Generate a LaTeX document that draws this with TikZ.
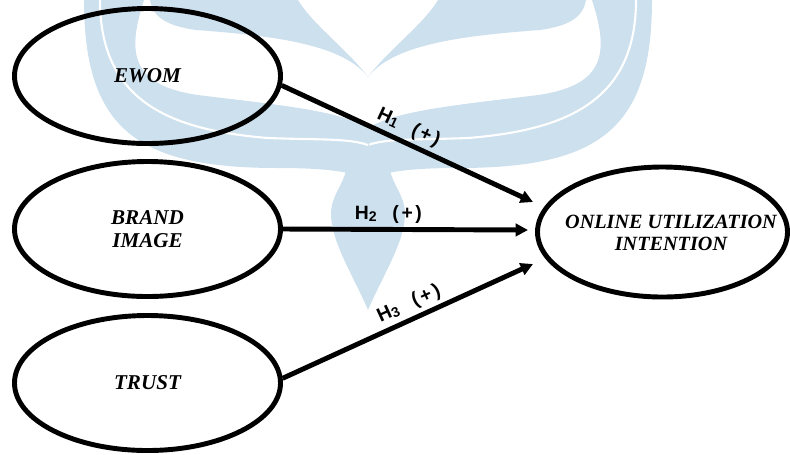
\documentclass[tikz,border=0pt]{standalone}
\usepackage{fontspec}
\setmainfont{Liberation Serif}
\newfontfamily\labelfont{Liberation Sans}
\usepackage{xcolor}
\usepackage{tikz}
\usetikzlibrary{shapes.geometric,arrows.meta}
\definecolor{wmblue}{RGB}{205,224,238}
\newcommand{\hlab}[1]{H\raisebox{-1pt}{\fontsize{8}{9}\selectfont #1}\hspace{9pt}(\kern1.5pt+\kern1.5pt)}

\begin{document}
\begin{tikzpicture}[
  construct/.style={draw, ellipse, line width=2.8pt, minimum width=5.32cm,
    minimum height=2.7cm, inner sep=0pt, align=center,
    font=\fontsize{12}{13}\selectfont\bfseries\itshape},
  hyp/.style={line width=2.8pt, -{Triangle[length=7pt,width=7pt]}},
  hlabel/.style={sloped, above, inner sep=2pt,
    font=\labelfont\fontsize{11}{12}\selectfont\bfseries}
]
\useasboundingbox (0,0) rectangle (15.8,-9.08);

% logo behind the model
\begin{scope}[x=0.2mm, y=-0.2mm, xshift=7.36cm]
  \foreach \s in {1,-1} {
    \begin{scope}[xscale=\s]
      \fill[wmblue] (-1,180) -- (0,180) .. controls (15,172) and (40,168) .. (90,168)
        .. controls (230,168) and (284,130) .. (284,0) -- (224,0)
        .. controls (240,50) and (240,85) .. (170,95)
        .. controls (90,105) and (30,110) .. (0,128) -- (-1,128) -- cycle;
      \draw[white, line width=1.2pt] (268,0) .. controls (268,100) and (200,130) .. (100,138)
        .. controls (50,140) and (20,138) .. (0,145);
      \fill[wmblue] (0,77) .. controls (20,50) and (55,25) .. (70,0) -- (218,0)
        .. controls (215,18) and (200,26) .. (172,30)
        .. controls (90,36) and (25,45) .. (0,77) -- cycle;
    \end{scope}
  }
  \fill[wmblue] (0,310) .. controls (-15,275) and (-38,240) .. (-37,212)
    .. controls (-36,195) and (-25,185) .. (-22,170) -- (22,170)
    .. controls (25,185) and (36,195) .. (37,212)
    .. controls (38,240) and (15,275) .. (0,310) -- cycle;
\end{scope}

\node[construct] (ewom) at (2.95,-1.52) {EWOM};
\node[construct] (brand) at (2.95,-4.58) {BRAND\\IMAGE};
\node[construct] (trust) at (2.95,-7.66) {TRUST};
\node[construct, minimum width=5.0cm, minimum height=2.6cm] (online) at (13.25,-4.64) {};
\node[align=center, font=\fontsize{11.5}{12.5}\selectfont\bfseries\itshape] (online text)
  at (13.42,-4.66) {ONLINE UTILIZATION\\INTENTION};

\coordinate (t1) at (10.66,-4.04);
\coordinate (t2) at (10.56,-4.60);
\coordinate (t3) at (10.66,-5.28);

\draw[hyp] (ewom.-4) -- node[hlabel, pos=0.48] (h1) {\hlab{1}} (t1);
\draw[hyp] (brand.east) -- node[hlabel, pos=0.43] (h2) {\hlab{2}} (t2);
\draw[hyp] (trust.2) -- node[hlabel, pos=0.53] (h3) {\hlab{3}} (t3);
\end{tikzpicture}
\end{document}
